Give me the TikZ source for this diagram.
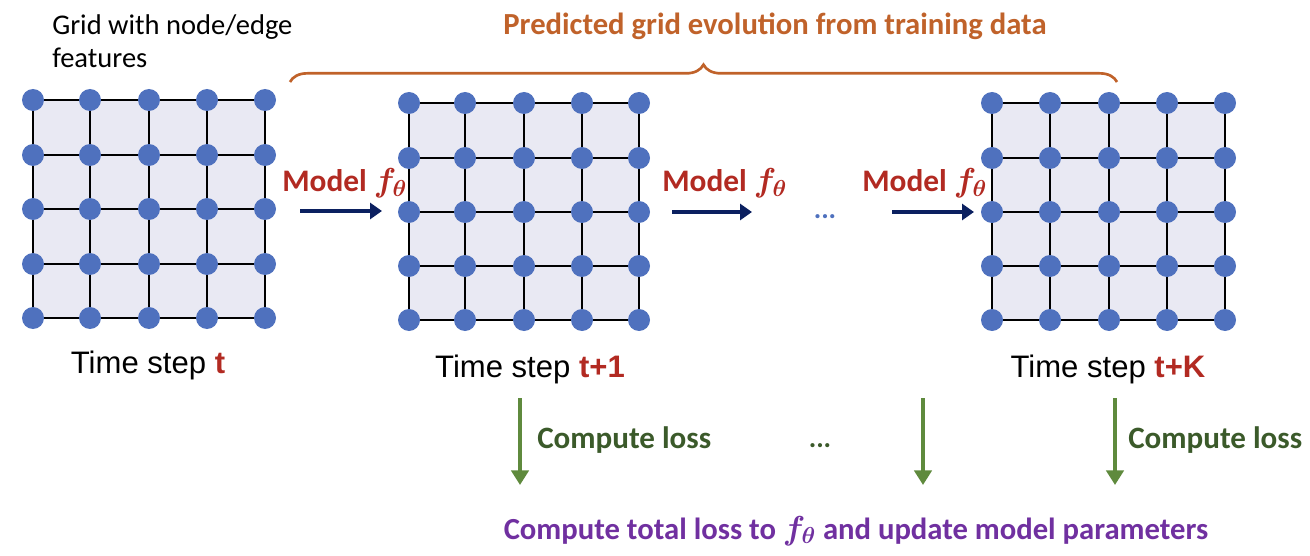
\documentclass[tikz,border=0pt]{standalone}
\usepackage{fontspec}
\setmainfont{Carlito}
\newfontfamily\arialf{Liberation Sans}
\usepackage{amsmath,bm}
\usetikzlibrary{arrows.meta,decorations.pathreplacing}
\definecolor{dotblue}{HTML}{4F71BE}
\definecolor{gridfill}{HTML}{E9E9F3}
\definecolor{mred}{HTML}{B22A22}
\definecolor{navyc}{HTML}{0B2060}
\definecolor{lgreen}{HTML}{5F8A3D}
\definecolor{dgreen}{HTML}{3B5A2A}
\definecolor{orng}{HTML}{C0622A}
\definecolor{purp}{HTML}{7030A0}
\tikzset{
  gdot/.style={circle,fill=dotblue,inner sep=0pt,minimum size=16.5pt},
  gline/.style={black,line width=1.3pt},
  navyarrow/.style={draw=navyc,line width=2.6pt,-{Triangle[length=9pt,width=12pt]}},
  greenarrow/.style={draw=lgreen,line width=3pt,-{Triangle[length=11pt,width=13pt]}},
  modellabel/.style={text=mred,font=\fontsize{23.5}{28}\selectfont\bfseries,anchor=base west,inner sep=0pt},
  steplabel/.style={font=\arialf\fontsize{23.3}{28}\selectfont,anchor=base,inner sep=0pt},
  losslabel/.style={text=dgreen,font=\fontsize{23.3}{28}\selectfont\bfseries,anchor=base west,inner sep=0pt},
}
\newcommand{\fth}{$\bm{f}_{\bm{\theta}}$}
\begin{document}
\begin{tikzpicture}[x=0.75pt,y=-0.75pt]
\useasboundingbox (0,0) rectangle (1310,556);
% grids
\foreach \g/\xs/\ys in {1/{33,90,149,207,265}/{100,155,209,264,318},
                        2/{409,465,524,582,639}/{103,158,212,266,320},
                        3/{992,1050,1109,1167,1225}/{103,158,212,266,320}}{
  \foreach \xx [count=\i] in \xs {
    \foreach \yy [count=\j] in \ys {
      \coordinate (c\g-\i-\j) at (\xx,\yy);
    }
  }
  \fill[gridfill] (c\g-1-1) rectangle (c\g-5-5);
  \foreach \i in {1,...,5}{
    \draw[gline] (c\g-\i-1) -- (c\g-\i-5);
    \draw[gline] (c\g-1-\i) -- (c\g-5-\i);
  }
  \foreach \i in {1,...,5}{
    \foreach \j in {1,...,5}{
      \node[gdot] (n\g-\i-\j) at (c\g-\i-\j) {};
    }
  }
}
% top-left label
\node[anchor=base west,inner sep=0pt,align=left,font=\fontsize{21.4}{24.75}\selectfont] (gridlbl) at (52,35) {Grid with node/edge};
\node[anchor=base west,inner sep=0pt,font=\fontsize{21.4}{24.75}\selectfont] (gridlbl2) at (52,68) {features};
% step labels
\node[steplabel] (s1) at (148,373) {Time step \textcolor{mred}{\bfseries t}};
\node[steplabel] (s2) at (530,377) {Time step \textcolor{mred}{\bfseries t+1}};
\node[steplabel] (s3) at (1108,377) {Time step \textcolor{mred}{\bfseries t+K}};
% model arrows
\node[modellabel] (m1) at (282,192) {Model \fth};
\node[modellabel] (m2) at (662,192) {Model \fth};
\node[modellabel] (m3) at (862,192) {Model \fth};
\coordinate (a1s) at (300,211); \coordinate (a1e) at (382,211);
\coordinate (a2s) at (672,212); \coordinate (a2e) at (752,212);
\coordinate (a3s) at (892,212); \coordinate (a3e) at (974,212);
\draw[navyarrow] (a1s) -- (a1e);
\draw[navyarrow] (a2s) -- (a2e);
\draw[navyarrow] (a3s) -- (a3e);
\node[text=dotblue,font=\fontsize{21}{24}\selectfont\bfseries,anchor=base,inner sep=0pt] (dots1) at (825,219) {...};
% brace
\coordinate (bl) at (290,82); \coordinate (br) at (1117,82);
\draw[draw=orng,line width=2pt,decorate,decoration={brace,amplitude=13pt}] (bl) -- (br);
\node[text=orng,font=\fontsize{23}{27}\selectfont\bfseries,anchor=base,inner sep=0pt] (pred) at (775,35) {Predicted grid evolution from training data};
% loss arrows
\coordinate (g1s) at (520,398); \coordinate (g1e) at (520,485);
\coordinate (g2s) at (923,398); \coordinate (g2e) at (923,485);
\coordinate (g3s) at (1115,398); \coordinate (g3e) at (1115,485);
\draw[greenarrow] (g1s) -- (g1e);
\draw[greenarrow] (g2s) -- (g2e);
\draw[greenarrow] (g3s) -- (g3e);
\node[losslabel] (l1) at (537,448) {Compute loss};
\node[losslabel] (l3) at (1128,448) {Compute loss};
\node[text=dgreen,font=\fontsize{21}{24}\selectfont\bfseries,anchor=base,inner sep=0pt] (dots2) at (820,447) {...};
\node[text=purp,font=\fontsize{23}{27}\selectfont\bfseries,anchor=base,inner sep=0pt] (total) at (856,539) {Compute total loss to \fth\ and update model parameters};
\end{tikzpicture}
\end{document}
